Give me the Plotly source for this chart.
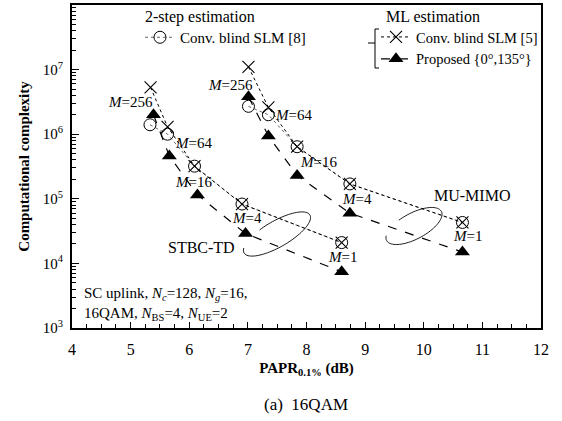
import numpy as np
import plotly.graph_objects as go

# ---------------- data ----------------
m_labels = [256, 64, 16, 4, 1]

# STBC-TD group
papr_2step_stbc = [5.33, 5.63, 6.09, 6.90, 8.60]
cc_2step_stbc = [1.4e6, 1.0e6, 3.2e5, 8.3e4, 2.1e4]
papr_ml_stbc = [5.34, 5.63, 6.09, 6.90, 8.60]
cc_ml_stbc = [5.3e6, 1.3e6, 3.2e5, 8.3e4, 2.1e4]
papr_prop_stbc = [5.39, 5.66, 6.14, 6.96, 8.60]
cc_prop_stbc = [2.0e6, 4.6e5, 1.15e5, 2.9e4, 7.4e3]

# MU-MIMO group
papr_2step_mimo = [7.01, 7.35, 7.84, 8.74, 10.66]
cc_2step_mimo = [2.7e6, 2.0e6, 6.4e5, 1.7e5, 4.3e4]
papr_ml_mimo = [7.01, 7.35, 7.84, 8.74, 10.66]
cc_ml_mimo = [1.1e7, 2.6e6, 6.4e5, 1.7e5, 4.3e4]
papr_prop_mimo = [7.01, 7.35, 7.84, 8.74, 10.66]
cc_prop_mimo = [3.8e6, 9.4e5, 2.3e5, 6.0e4, 1.5e4]

x_ticks = [4, 5, 6, 7, 8, 9, 10, 11, 12]
y_ticks = [1e3, 1e4, 1e5, 1e6, 1e7, 1e8]
y_ticktext = ["10<sup>3</sup>", "10<sup>4</sup>", "10<sup>5</sup>",
              "10<sup>6</sup>", "10<sup>7</sup>", "10<sup>8</sup>"]

FONT = "Liberation Serif"

fig = go.Figure()

def add_series(x, y, name, marker, line, legend, show):
    fig.add_trace(go.Scatter(
        x=x, y=y, mode="lines+markers", name=name,
        marker=marker, line=line, legend=legend, showlegend=show))

circle_marker = dict(symbol="circle-open", size=12, color="black", line=dict(width=1, color="black"))
x_marker = dict(symbol="x-thin-open", size=12, color="black", line=dict(width=1.1, color="black"))
tri_marker = dict(symbol="triangle-up", size=13, color="black")

circle_line = dict(color="#666666", width=1, dash="dot")
x_line = dict(color="black", width=1, dash="dot")
tri_line = dict(color="black", width=1.2, dash="dash")

add_series(papr_2step_stbc, cc_2step_stbc, "Conv. blind SLM [8]", circle_marker, circle_line, "legend", True)
add_series(papr_2step_mimo, cc_2step_mimo, "Conv. blind SLM [8]", circle_marker, circle_line, "legend", False)
add_series(papr_ml_stbc, cc_ml_stbc, "Conv. blind SLM [5]", x_marker, x_line, "legend2", True)
add_series(papr_ml_mimo, cc_ml_mimo, "Conv. blind SLM [5]", x_marker, x_line, "legend2", False)
add_series(papr_prop_stbc, cc_prop_stbc, "Proposed {0°,135°}", tri_marker, tri_line, "legend2", True)
add_series(papr_prop_mimo, cc_prop_mimo, "Proposed {0°,135°}", tri_marker, tri_line, "legend2", False)

# ---------------- M labels ----------------
def mlab(x, y, m, dx, dy):
    fig.add_annotation(x=x, y=np.log10(y), xref="x", yref="y",
                       xanchor="center", yanchor="middle",
                       text=f"<i>M</i>={m}", showarrow=False,
                       xshift=dx, yshift=dy,
                       font=dict(family=FONT, size=15, color="black"))

stbc_off = [(-23, 13), (26, -9), (-1, -16), (5, -14), (1, -14)]
stbc_ref = [(papr_prop_stbc[0], cc_prop_stbc[0])] + list(zip(papr_2step_stbc[1:], cc_2step_stbc[1:]))
for (x, y), m, (dx, dy) in zip(stbc_ref, m_labels, stbc_off):
    mlab(x, y, m, dx, dy)

mimo_off = [(-18, 12), (25, 0), (21, -15), (7, -15), (5, -14)]
mimo_ref = [(papr_prop_mimo[0], cc_prop_mimo[0])] + list(zip(papr_2step_mimo[1:], cc_2step_mimo[1:]))
for (x, y), m, (dx, dy) in zip(mimo_ref, m_labels, mimo_off):
    mlab(x, y, m, dx, dy)

# ---------------- layout geometry helpers (paper coords from pixels) ----------------
W, H = 562, 421
L, R, T, B = 72, 21, 5, 93
PW, PH = W - L - R, H - T - B

def px(x):
    return (x - L) / PW

def py(y):
    return (H - B - y) / PH

# group ellipses (decorative, open arcs)
def arc_path(cx, cy, a, b, ang, gap0, gap1):
    t = np.linspace(np.radians(gap1), np.radians(gap0 + 360), 80)
    c, s = np.cos(np.radians(ang)), np.sin(np.radians(ang))
    xs = cx + a * np.cos(t) * c - b * np.sin(t) * s
    ys = cy - (a * np.cos(t) * s + b * np.sin(t) * c)
    pts = [f"{px(X):.4f},{py(Y):.4f}" for X, Y in zip(xs, ys)]
    return "M" + " L".join(pts)

fig.add_shape(type="path", xref="paper", yref="paper",
              path=arc_path(277, 234, 38, 13, 30, 110, 160),
              line=dict(color="black", width=0.9))
fig.add_shape(type="path", xref="paper", yref="paper",
              path=arc_path(414, 226, 31, 13, 28, 110, 160),
              line=dict(color="black", width=0.9))

def note(xp, yp, text, size=16, xanchor="center", align="center"):
    fig.add_annotation(x=px(xp), y=py(yp), xref="paper", yref="paper",
                       xanchor=xanchor, yanchor="middle", align=align,
                       text=text, showarrow=False,
                       font=dict(family=FONT, size=size, color="black"))

note(201, 247, "STBC-TD")
note(472, 195, "MU-MIMO")

# condition text
note(82, 304, "SC uplink, <i>N<sub>c</sub></i>=128, <i>N<sub>g</sub></i>=16,<br>"
              "16QAM, <i>N</i><sub>BS</sub>=4, <i>N</i><sub>UE</sub>=2",
     size=15, xanchor="left", align="left")

# legend titles
note(143, 17, "2-step estimation", xanchor="left")
note(384, 17, "ML estimation", xanchor="left")

# bracket for ML legend
bx = 375
for x0, y0, x1, y1 in [(bx, 29, bx, 68), (bx, 29, bx + 4, 29), (bx, 68, bx + 4, 68), (bx - 7, 43, bx, 43)]:
    fig.add_shape(type="line", xref="paper", yref="paper",
                  x0=px(x0), y0=py(y0), x1=px(x1), y1=py(y1),
                  line=dict(color="black", width=1))

# caption
note(306, 404, "(a)  16QAM", size=17)

minor_y = [k * 10 ** e for e in range(3, 8) for k in range(2, 10)]

fig.update_layout(
    width=W, height=H,
    margin=dict(l=L, r=R, t=T, b=B, autoexpand=False),
    paper_bgcolor="white", plot_bgcolor="white",
    font=dict(family=FONT, size=15, color="black"),
    legend=dict(x=px(140), y=py(21), xanchor="left", yanchor="top",
                bgcolor="rgba(0,0,0,0)", font=dict(family=FONT, size=15),
                itemwidth=30, borderwidth=0, tracegroupgap=0),
    legend2=dict(x=px(376), y=py(21), xanchor="left", yanchor="top",
                 bgcolor="rgba(0,0,0,0)", font=dict(family=FONT, size=14.5),
                 itemwidth=30, borderwidth=0, tracegroupgap=0),
    xaxis=dict(range=[4, 12], tickvals=x_ticks, ticks="inside", ticklen=6,
               tickwidth=1, tickcolor="black",
               showline=True, linecolor="black", linewidth=2, mirror=True,
               showgrid=False, zeroline=False,
               tickfont=dict(family=FONT, size=16), ticklabelstandoff=6,
               minor=dict(dtick=0.25, ticks="inside", ticklen=4, tickcolor="black", showgrid=False),
               title=dict(text="<b>PAPR<sub>0.1%</sub> (dB)</b>", font=dict(family=FONT, size=15),
                          standoff=5)),
    yaxis=dict(type="log", range=[3, 8], tickvals=y_ticks, ticktext=y_ticktext,
               ticks="inside", ticklen=7, tickwidth=1, tickcolor="black",
               showline=True, linecolor="black", linewidth=2, mirror=True,
               showgrid=False, zeroline=False,
               tickfont=dict(family=FONT, size=15), ticklabelstandoff=4,
               minor=dict(tickvals=minor_y, ticks="inside", ticklen=4, tickcolor="black", showgrid=False),
               title=dict(text="<b>Computational complexity</b>", font=dict(family=FONT, size=15),
                          standoff=10)),
)

fig.write_html("out.html", config={"displayModeBar": False},
               post_script="document.body.style.margin='0';")
